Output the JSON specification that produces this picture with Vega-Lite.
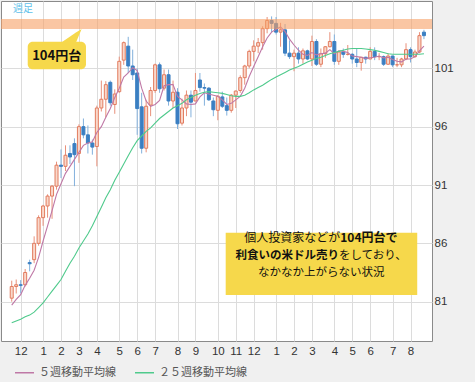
{
  "$schema": "https://vega.github.io/schema/vega-lite/v6.json",
  "width": 431,
  "height": 340,
  "autosize": {"type": "none"},
  "padding": {"left": 1, "top": 1, "right": 43, "bottom": 41},
  "background": "#f0f0f0",
  "config": {
    "view": {"fill": "#ffffff", "stroke": "#8a8a8a", "strokeWidth": 1},
    "axis": {"labelFont": "Liberation Sans", "labelFontSize": 11.5, "labelColor": "#333333", "gridColor": "#dcdcdc", "gridWidth": 1, "ticks": false, "domain": false, "title": null, "labelOverlap": false},
    "legend": {"orient": "none", "legendX": 13, "legendY": 361, "direction": "horizontal", "title": null, "symbolType": "stroke", "symbolSize": 360, "symbolStrokeWidth": 1.5, "labelFont": "Noto Sans CJK JP", "labelFontSize": 11, "labelColor": "#555555", "labelOffset": 4, "columnPadding": 16}
  },
  "datasets": {
    "w": [
      {"d": "2012-11-19", "o": 81.3, "h": 82.8, "l": 81.0, "c": 82.3, "５週移動平均線": 80.7, "２５週移動平均線": 79.2},
      {"d": "2012-11-26", "o": 82.3, "h": 82.9, "l": 81.7, "c": 82.45, "５週移動平均線": 81.2, "２５週移動平均線": 79.35},
      {"d": "2012-12-03", "o": 82.45, "h": 82.85, "l": 81.7, "c": 82.4, "５週移動平均線": 81.6, "２５週移動平均線": 79.5},
      {"d": "2012-12-10", "o": 82.45, "h": 83.8, "l": 82.3, "c": 83.5, "５週移動平均線": 82.4, "２５週移動平均線": 79.7},
      {"d": "2012-12-17", "o": 84.35, "h": 84.6, "l": 83.6, "c": 84.25, "５週移動平均線": 83.0, "２５週移動平均線": 79.85},
      {"d": "2012-12-24", "o": 84.6, "h": 86.6, "l": 84.3, "c": 86.0, "５週移動平均線": 83.7, "２５週移動平均線": 80.1},
      {"d": "2012-12-31", "o": 86.0, "h": 88.4, "l": 85.8, "c": 88.2, "５週移動平均線": 84.8, "２５週移動平均線": 80.5},
      {"d": "2013-01-07", "o": 88.2, "h": 89.3, "l": 87.5, "c": 89.2, "５週移動平均線": 86.2, "２５週移動平均線": 80.9},
      {"d": "2013-01-14", "o": 89.2, "h": 90.2, "l": 88.2, "c": 90.05, "５週移動平均線": 87.5, "２５週移動平均線": 81.4},
      {"d": "2013-01-21", "o": 90.05, "h": 91.0, "l": 88.1, "c": 90.9, "５週移動平均線": 88.8, "２５週移動平均線": 81.9},
      {"d": "2013-01-28", "o": 90.9, "h": 93.0, "l": 90.6, "c": 92.7, "５週移動平均線": 90.2, "２５週移動平均線": 82.4},
      {"d": "2013-02-04", "o": 92.7, "h": 94.05, "l": 91.6, "c": 92.6, "５週移動平均線": 91.1, "２５週移動平均線": 82.9},
      {"d": "2013-02-11", "o": 92.6, "h": 94.4, "l": 92.2, "c": 93.55, "５週移動平均線": 92.0, "２５週移動平均線": 83.6},
      {"d": "2013-02-18", "o": 93.7, "h": 94.4, "l": 92.8, "c": 93.4, "５週移動平均線": 92.6, "２５週移動平均線": 84.3},
      {"d": "2013-02-25", "o": 94.55, "h": 95.0, "l": 90.9, "c": 93.6, "５週移動平均線": 93.2, "２５週移動平均線": 84.9},
      {"d": "2013-03-04", "o": 93.7, "h": 96.2, "l": 92.9, "c": 96.0, "５週移動平均線": 93.8, "２５週移動平均線": 85.6},
      {"d": "2013-03-11", "o": 96.0, "h": 96.7, "l": 95.0, "c": 95.3, "５週移動平均線": 94.4, "２５週移動平均線": 86.2},
      {"d": "2013-03-18", "o": 95.3, "h": 96.1, "l": 93.7, "c": 94.6, "５週移動平均線": 94.6, "２５週移動平均線": 86.8},
      {"d": "2013-03-25", "o": 94.6, "h": 94.9, "l": 93.6, "c": 94.25, "５週移動平均線": 94.7, "２５週移動平均線": 87.5},
      {"d": "2013-04-01", "o": 94.3, "h": 97.8, "l": 92.6, "c": 97.6, "５週移動平均線": 95.5, "２５週移動平均線": 88.3},
      {"d": "2013-04-08", "o": 97.6, "h": 99.95, "l": 97.3, "c": 98.35, "５週移動平均線": 96.0, "２５週移動平均線": 89.1},
      {"d": "2013-04-15", "o": 98.35, "h": 99.9, "l": 96.8, "c": 99.6, "５週移動平均線": 96.8, "２５週移動平均線": 89.9},
      {"d": "2013-04-22", "o": 99.8, "h": 99.95, "l": 97.8, "c": 98.05, "５週移動平均線": 97.55, "２５週移動平均線": 90.6},
      {"d": "2013-04-29", "o": 97.9, "h": 99.2, "l": 97.1, "c": 98.8, "５週移動平均線": 98.5, "２５週移動平均線": 91.4},
      {"d": "2013-05-06", "o": 99.0, "h": 102.0, "l": 98.9, "c": 101.6, "５週移動平均線": 99.3, "２５週移動平均線": 92.1},
      {"d": "2013-05-13", "o": 101.7, "h": 103.3, "l": 101.3, "c": 103.2, "５週移動平均線": 100.25, "２５週移動平均線": 92.8},
      {"d": "2013-05-20", "o": 102.9, "h": 103.7, "l": 100.6, "c": 101.2, "５週移動平均線": 100.6, "２５週移動平均線": 93.5},
      {"d": "2013-05-27", "o": 101.2, "h": 102.6, "l": 100.0, "c": 100.45, "５週移動平均線": 101.05, "２５週移動平均線": 94.2},
      {"d": "2013-06-03", "o": 100.6, "h": 101.0, "l": 95.3, "c": 97.55, "５週移動平均線": 100.8, "２５週移動平均線": 94.8},
      {"d": "2013-06-10", "o": 97.7, "h": 98.9, "l": 93.7, "c": 94.15, "５週移動平均線": 99.3, "２５週移動平均線": 95.2},
      {"d": "2013-06-17", "o": 94.15, "h": 98.3, "l": 93.8, "c": 97.75, "５週移動平均線": 98.2, "２５週移動平均線": 95.6},
      {"d": "2013-06-24", "o": 97.85, "h": 99.4, "l": 96.9, "c": 99.1, "５週移動平均線": 97.75, "２５週移動平均線": 95.9},
      {"d": "2013-07-01", "o": 99.1, "h": 101.4, "l": 98.9, "c": 101.3, "５週移動平均線": 97.9, "２５週移動平均線": 96.3},
      {"d": "2013-07-08", "o": 101.3, "h": 101.5, "l": 98.9, "c": 99.25, "５週移動平均線": 98.25, "２５週移動平均線": 96.7},
      {"d": "2013-07-15", "o": 99.3, "h": 100.9, "l": 99.1, "c": 100.45, "５週移動平均線": 99.5, "２５週移動平均線": 97.0},
      {"d": "2013-07-22", "o": 100.45, "h": 100.9, "l": 97.8, "c": 98.2, "５週移動平均線": 99.6, "２５週移動平均線": 97.3},
      {"d": "2013-07-29", "o": 98.2, "h": 99.95, "l": 97.6, "c": 98.95, "５週移動平均線": 99.6, "２５週移動平均線": 97.6},
      {"d": "2013-08-05", "o": 98.95, "h": 99.3, "l": 95.8, "c": 96.25, "５週移動平均線": 98.6, "２５週移動平均線": 97.8},
      {"d": "2013-08-12", "o": 96.3, "h": 98.4, "l": 96.1, "c": 97.6, "５週移動平均線": 98.3, "２５週移動平均線": 98.0},
      {"d": "2013-08-19", "o": 97.6, "h": 99.1, "l": 96.9, "c": 98.7, "５週移動平均線": 97.95, "２５週移動平均線": 98.3},
      {"d": "2013-08-26", "o": 98.7, "h": 99.1, "l": 96.8, "c": 98.1, "５週移動平均線": 97.9, "２５週移動平均線": 98.5},
      {"d": "2013-09-02", "o": 98.2, "h": 100.6, "l": 98.2, "c": 99.1, "５週移動平均線": 97.95, "２５週移動平均線": 98.7},
      {"d": "2013-09-09", "o": 100.0, "h": 100.6, "l": 99.0, "c": 99.35, "５週移動平均線": 98.55, "２５週移動平均線": 98.85},
      {"d": "2013-09-16", "o": 99.35, "h": 99.7, "l": 97.8, "c": 99.3, "５週移動平均線": 98.9, "２５週移動平均線": 98.95},
      {"d": "2013-09-23", "o": 99.3, "h": 99.4, "l": 98.2, "c": 98.3, "５週移動平均線": 98.8, "２５週移動平均線": 99.0},
      {"d": "2013-09-30", "o": 98.2, "h": 98.5, "l": 96.9, "c": 97.45, "５週移動平均線": 98.7, "２５週移動平均線": 98.95},
      {"d": "2013-10-07", "o": 97.4, "h": 98.7, "l": 96.55, "c": 98.6, "５週移動平均線": 98.6, "２５週移動平均線": 98.9},
      {"d": "2013-10-14", "o": 98.55, "h": 99.0, "l": 97.6, "c": 97.75, "５週移動平均線": 98.3, "２５週移動平均線": 98.85},
      {"d": "2013-10-21", "o": 97.8, "h": 98.5, "l": 96.95, "c": 97.4, "５週移動平均線": 97.9, "２５週移動平均線": 98.75},
      {"d": "2013-10-28", "o": 97.4, "h": 98.8, "l": 97.2, "c": 98.7, "５週移動平均線": 98.0, "２５週移動平均線": 98.65},
      {"d": "2013-11-04", "o": 98.7, "h": 99.1, "l": 97.6, "c": 99.05, "５週移動平均線": 98.3, "２５週移動平均線": 98.6},
      {"d": "2013-11-11", "o": 99.1, "h": 100.4, "l": 98.9, "c": 100.2, "５週移動平均線": 98.6, "２５週移動平均線": 98.6},
      {"d": "2013-11-18", "o": 100.2, "h": 101.3, "l": 99.6, "c": 101.2, "５週移動平均線": 99.3, "２５週移動平均線": 98.7},
      {"d": "2013-11-25", "o": 101.2, "h": 102.6, "l": 101.0, "c": 102.45, "５週移動平均線": 100.3, "２５週移動平均線": 98.9},
      {"d": "2013-12-02", "o": 102.45, "h": 103.4, "l": 101.6, "c": 102.9, "５週移動平均線": 101.15, "２５週移動平均線": 99.15},
      {"d": "2013-12-09", "o": 102.9, "h": 103.6, "l": 102.3, "c": 103.2, "５週移動平均線": 102.0, "２５週移動平均線": 99.35},
      {"d": "2013-12-16", "o": 103.2, "h": 104.6, "l": 102.6, "c": 104.4, "５週移動平均線": 102.85, "２５週移動平均線": 99.55},
      {"d": "2013-12-23", "o": 104.4, "h": 105.4, "l": 104.0, "c": 105.1, "５週移動平均線": 103.6, "２５週移動平均線": 99.8},
      {"d": "2013-12-30", "o": 105.1, "h": 105.45, "l": 104.1, "c": 104.85, "５週移動平均線": 104.1, "２５週移動平均線": 100.05},
      {"d": "2014-01-06", "o": 104.85, "h": 105.4, "l": 103.9, "c": 104.1, "５週移動平均線": 104.35, "２５週移動平均線": 100.25},
      {"d": "2014-01-13", "o": 104.1, "h": 104.9, "l": 102.85, "c": 104.3, "５週移動平均線": 104.55, "２５週移動平均線": 100.45},
      {"d": "2014-01-20", "o": 104.3, "h": 104.8, "l": 102.05, "c": 102.3, "５週移動平均線": 104.15, "２５週移動平均線": 100.65},
      {"d": "2014-01-27", "o": 102.3, "h": 103.4, "l": 101.8, "c": 102.0, "５週移動平均線": 103.5, "２５週移動平均線": 100.85},
      {"d": "2014-02-03", "o": 102.0, "h": 102.6, "l": 100.75, "c": 102.3, "５週移動平均線": 103.0, "２５週移動平均線": 101.0},
      {"d": "2014-02-10", "o": 102.3, "h": 102.8, "l": 101.4, "c": 101.8, "５週移動平均線": 102.55, "２５週移動平均線": 101.15},
      {"d": "2014-02-17", "o": 101.8, "h": 102.7, "l": 101.4, "c": 102.5, "５週移動平均線": 102.2, "２５週移動平均線": 101.35},
      {"d": "2014-02-24", "o": 102.5, "h": 102.6, "l": 101.7, "c": 101.8, "５週移動平均線": 102.1, "２５週移動平均線": 101.55},
      {"d": "2014-03-03", "o": 101.8, "h": 103.8, "l": 101.2, "c": 103.3, "５週移動平均線": 102.35, "２５週移動平均線": 101.7},
      {"d": "2014-03-10", "o": 103.3, "h": 103.5, "l": 101.2, "c": 101.35, "５週移動平均線": 102.15, "２５週移動平均線": 101.85},
      {"d": "2014-03-17", "o": 101.35, "h": 102.7, "l": 101.1, "c": 102.25, "５週移動平均線": 102.25, "２５週移動平均線": 101.95},
      {"d": "2014-03-24", "o": 102.25, "h": 102.9, "l": 101.9, "c": 102.85, "５週移動平均線": 102.3, "２５週移動平均線": 102.1},
      {"d": "2014-03-31", "o": 102.85, "h": 104.1, "l": 102.8, "c": 103.3, "５週移動平均線": 102.6, "２５週移動平均線": 102.25},
      {"d": "2014-04-07", "o": 103.3, "h": 103.9, "l": 101.3, "c": 101.6, "５週移動平均線": 102.25, "２５週移動平均線": 102.35},
      {"d": "2014-04-14", "o": 101.6, "h": 102.5, "l": 101.3, "c": 102.4, "５週移動平均線": 102.5, "２５週移動平均線": 102.45},
      {"d": "2014-04-21", "o": 102.4, "h": 102.7, "l": 101.9, "c": 102.2, "５週移動平均線": 102.45, "２５週移動平均線": 102.55},
      {"d": "2014-04-28", "o": 102.2, "h": 103.0, "l": 102.1, "c": 102.2, "５週移動平均線": 102.35, "２５週移動平均線": 102.65},
      {"d": "2014-05-05", "o": 102.2, "h": 102.3, "l": 101.4, "c": 101.8, "５週移動平均線": 102.05, "２５週移動平均線": 102.7},
      {"d": "2014-05-12", "o": 101.8, "h": 102.7, "l": 101.1, "c": 101.5, "５週移動平均線": 102.0, "２５週移動平均線": 102.7},
      {"d": "2014-05-19", "o": 101.5, "h": 101.9, "l": 100.8, "c": 101.95, "５週移動平均線": 101.95, "２５週移動平均線": 102.7},
      {"d": "2014-05-26", "o": 101.95, "h": 102.0, "l": 101.4, "c": 101.8, "５週移動平均線": 101.85, "２５週移動平均線": 102.65},
      {"d": "2014-06-02", "o": 101.8, "h": 102.8, "l": 101.8, "c": 102.45, "５週移動平均線": 101.9, "２５週移動平均線": 102.6},
      {"d": "2014-06-09", "o": 102.45, "h": 102.8, "l": 101.7, "c": 102.0, "５週移動平均線": 101.95, "２５週移動平均線": 102.55},
      {"d": "2014-06-16", "o": 102.0, "h": 102.3, "l": 101.7, "c": 102.0, "５週移動平均線": 102.05, "２５週移動平均線": 102.45},
      {"d": "2014-06-23", "o": 102.0, "h": 102.1, "l": 101.2, "c": 101.35, "５週移動平均線": 101.9, "２５週移動平均線": 102.35},
      {"d": "2014-06-30", "o": 101.35, "h": 102.3, "l": 101.3, "c": 102.05, "５週移動平均線": 101.95, "２５週移動平均線": 102.25},
      {"d": "2014-07-07", "o": 102.05, "h": 102.1, "l": 101.1, "c": 101.3, "５週移動平均線": 101.75, "２５週移動平均線": 102.2},
      {"d": "2014-07-14", "o": 101.3, "h": 101.9, "l": 101.1, "c": 101.3, "５週移動平均線": 101.6, "２５週移動平均線": 102.2},
      {"d": "2014-07-21", "o": 101.3, "h": 101.9, "l": 101.1, "c": 101.8, "５週移動平均線": 101.55, "２５週移動平均線": 102.2},
      {"d": "2014-07-28", "o": 101.8, "h": 103.15, "l": 101.7, "c": 102.6, "５週移動平均線": 101.8, "２５週移動平均線": 102.2},
      {"d": "2014-08-04", "o": 102.6, "h": 102.8, "l": 101.5, "c": 102.0, "５週移動平均線": 101.8, "２５週移動平均線": 102.2},
      {"d": "2014-08-11", "o": 102.0, "h": 102.6, "l": 101.9, "c": 102.4, "５週移動平均線": 102.0, "２５週移動平均線": 102.2},
      {"d": "2014-08-18", "o": 102.4, "h": 104.1, "l": 102.3, "c": 103.8, "５週移動平均線": 102.5, "２５週移動平均線": 102.2},
      {"d": "2014-08-25", "o": 104.1, "h": 104.3, "l": 103.5, "c": 103.8, "５週移動平均線": 102.9, "２５週移動平均線": 102.25}
    ]
  },
  "encoding": {
    "x": {
      "type": "temporal",
      "scale": {"type": "utc", "padding": 0, "domain": [{"year": 2012, "month": 11, "date": 2, "hours": 6, "utc": true}, {"year": 2014, "month": 9, "date": 6, "hours": 14, "utc": true}]},
      "axis": {
        "values": [1354492800000, 1357516800000, 1359936000000, 1362355200000, 1364774400000, 1367798400000, 1370217600000, 1372636800000, 1375660800000, 1378080000000, 1381104000000, 1383523200000, 1385942400000, 1388966400000, 1391385600000, 1393804800000, 1396828800000, 1399248000000, 1401667200000, 1404691200000, 1407110400000],
        "labelExpr": "utcFormat(datum.value, '%-m')",
        "grid": true, "labelPadding": 4, "labelOverlap": false, "labelFlush": false, "labelSeparation": 0
      }
    },
    "y": {
      "type": "quantitative",
      "scale": {"domain": [77.63, 106.77], "nice": false, "zero": false},
      "axis": {"orient": "right", "values": [81, 86, 91, 96, 101], "grid": true, "labelAlign": "left", "labelPadding": 2}
    }
  },
  "layer": [
    {
      "data": {"name": "w"},
      "mark": {"type": "rule", "strokeWidth": 1},
      "encoding": {
        "x": {"field": "d", "type": "temporal"},
        "y": {"field": "l", "type": "quantitative"},
        "y2": {"field": "h"},
        "color": {"condition": {"test": "datum.c >= datum.o", "value": "#e8907a"}, "value": "#82b0dc"}
      }
    },
    {
      "data": {"name": "w"},
      "mark": {"type": "bar", "width": 3, "strokeWidth": 1},
      "encoding": {
        "x": {"field": "d", "type": "temporal"},
        "y": {"field": "o", "type": "quantitative"},
        "y2": {"field": "c"},
        "fill": {"condition": {"test": "datum.c >= datum.o", "value": "#f9d8cb"}, "value": "#3b7fc2"},
        "stroke": {"condition": {"test": "datum.c >= datum.o", "value": "#e27c5f"}, "value": "#3b7fc2"}
      }
    },
    {
      "data": {"name": "w"},
      "transform": [{"fold": ["５週移動平均線", "２５週移動平均線"], "as": ["s", "v"]}],
      "mark": {"type": "line", "strokeWidth": 1.1},
      "encoding": {
        "x": {"field": "d", "type": "temporal"},
        "y": {"field": "v", "type": "quantitative"},
        "color": {"field": "s", "type": "nominal", "scale": {"domain": ["５週移動平均線", "２５週移動平均線"], "range": ["#bf78a6", "#4fca8c"]}}
      }
    },
    {
      "data": {"values": [{"x": "2012-11-02T06:00:00Z", "x2": "2014-09-06T14:00:00Z", "y": 104.37, "y2": 105.22}]},
      "mark": {"type": "rect", "fill": "#f7a066", "opacity": 0.6},
      "encoding": {
        "x": {"field": "x", "type": "temporal"},
        "x2": {"field": "x2"},
        "y": {"field": "y", "type": "quantitative"},
        "y2": {"field": "y2"}
      }
    },
    {
      "data": {"values": [{"x": "2012-11-21T00:00:00Z", "y": 106.08, "t": "週足"}]},
      "mark": {"type": "text", "font": "Noto Sans CJK JP", "fontSize": 10, "color": "#5fbfea", "align": "left", "baseline": "middle"},
      "encoding": {
        "x": {"field": "x", "type": "temporal"},
        "y": {"field": "y", "type": "quantitative"},
        "text": {"field": "t"}
      }
    },
    {
      "data": {"values": [{"x": "2012-12-14T00:00:00Z", "x2": "2013-03-15T00:00:00Z", "y": 103.28, "y2": 100.91}]},
      "mark": {"type": "rect", "fill": "#f6d84b", "cornerRadius": 5},
      "encoding": {
        "x": {"field": "x", "type": "temporal"},
        "x2": {"field": "x2"},
        "y": {"field": "y", "type": "quantitative"},
        "y2": {"field": "y2"}
      }
    },
    {
      "data": {"values": [
        {"x": "2013-02-03T22:00:00Z", "y": 103.2, "y2": 103.2},
        {"x": "2013-02-27T07:00:00Z", "y": 104.07, "y2": 103.2},
        {"x": "2013-03-08T05:00:00Z", "y": 104.37, "y2": 104.37}
      ]},
      "mark": {"type": "area", "fill": "#f6d84b", "opacity": 1},
      "encoding": {
        "x": {"field": "x", "type": "temporal"},
        "y": {"field": "y", "type": "quantitative"},
        "y2": {"field": "y2"}
      }
    },
    {
      "data": {"values": [{"x": "2013-01-28T05:00:00Z", "y": 102.05, "t": "104円台"}]},
      "mark": {"type": "text", "font": "Noto Sans CJK JP", "fontSize": 13, "fontWeight": "bold", "color": "#111111", "align": "center", "baseline": "middle"},
      "encoding": {
        "x": {"field": "x", "type": "temporal"},
        "y": {"field": "y", "type": "quantitative"},
        "text": {"field": "t"}
      }
    },
    {
      "data": {"values": [{"x": "2013-10-19T07:00:00Z", "x2": "2014-08-14T12:00:00Z", "y": 86.91, "y2": 81.57}]},
      "mark": {"type": "rect", "fill": "#f6d84b"},
      "encoding": {
        "x": {"field": "x", "type": "temporal"},
        "x2": {"field": "x2"},
        "y": {"field": "y", "type": "quantitative"},
        "y2": {"field": "y2"}
      }
    },
    {
      "data": {"values": [{"x": "2014-04-16T07:00:00Z", "y": 86.43, "t": "個人投資家などが"}]},
      "mark": {"type": "text", "font": "Noto Sans CJK JP", "fontSize": 12, "color": "#111111", "align": "right", "baseline": "middle"},
      "encoding": {"x": {"field": "x", "type": "temporal"}, "y": {"field": "y", "type": "quantitative"}, "text": {"field": "t"}}
    },
    {
      "data": {"values": [{"x": "2014-04-16T07:00:00Z", "y": 86.43, "t": "104円台で"}]},
      "mark": {"type": "text", "font": "Noto Sans CJK JP", "fontSize": 12, "fontWeight": "bold", "color": "#111111", "align": "left", "baseline": "middle"},
      "encoding": {"x": {"field": "x", "type": "temporal"}, "y": {"field": "y", "type": "quantitative"}, "text": {"field": "t"}}
    },
    {
      "data": {"values": [{"x": "2014-04-14T03:00:00Z", "y": 84.92, "t": "利食いの米ドル売り"}]},
      "mark": {"type": "text", "font": "Noto Sans CJK JP", "fontSize": 11.5, "fontWeight": "bold", "color": "#111111", "align": "right", "baseline": "middle"},
      "encoding": {"x": {"field": "x", "type": "temporal"}, "y": {"field": "y", "type": "quantitative"}, "text": {"field": "t"}}
    },
    {
      "data": {"values": [{"x": "2014-04-14T03:00:00Z", "y": 84.92, "t": "をしており、"}]},
      "mark": {"type": "text", "font": "Noto Sans CJK JP", "fontSize": 11.5, "color": "#111111", "align": "left", "baseline": "middle"},
      "encoding": {"x": {"field": "x", "type": "temporal"}, "y": {"field": "y", "type": "quantitative"}, "text": {"field": "t"}}
    },
    {
      "data": {"values": [{"x": "2014-03-17T14:00:00Z", "y": 83.49, "t": "なかなか上がらない状況"}]},
      "mark": {"type": "text", "font": "Noto Sans CJK JP", "fontSize": 11.5, "color": "#111111", "align": "center", "baseline": "middle"},
      "encoding": {"x": {"field": "x", "type": "temporal"}, "y": {"field": "y", "type": "quantitative"}, "text": {"field": "t"}}
    }
  ]
}
